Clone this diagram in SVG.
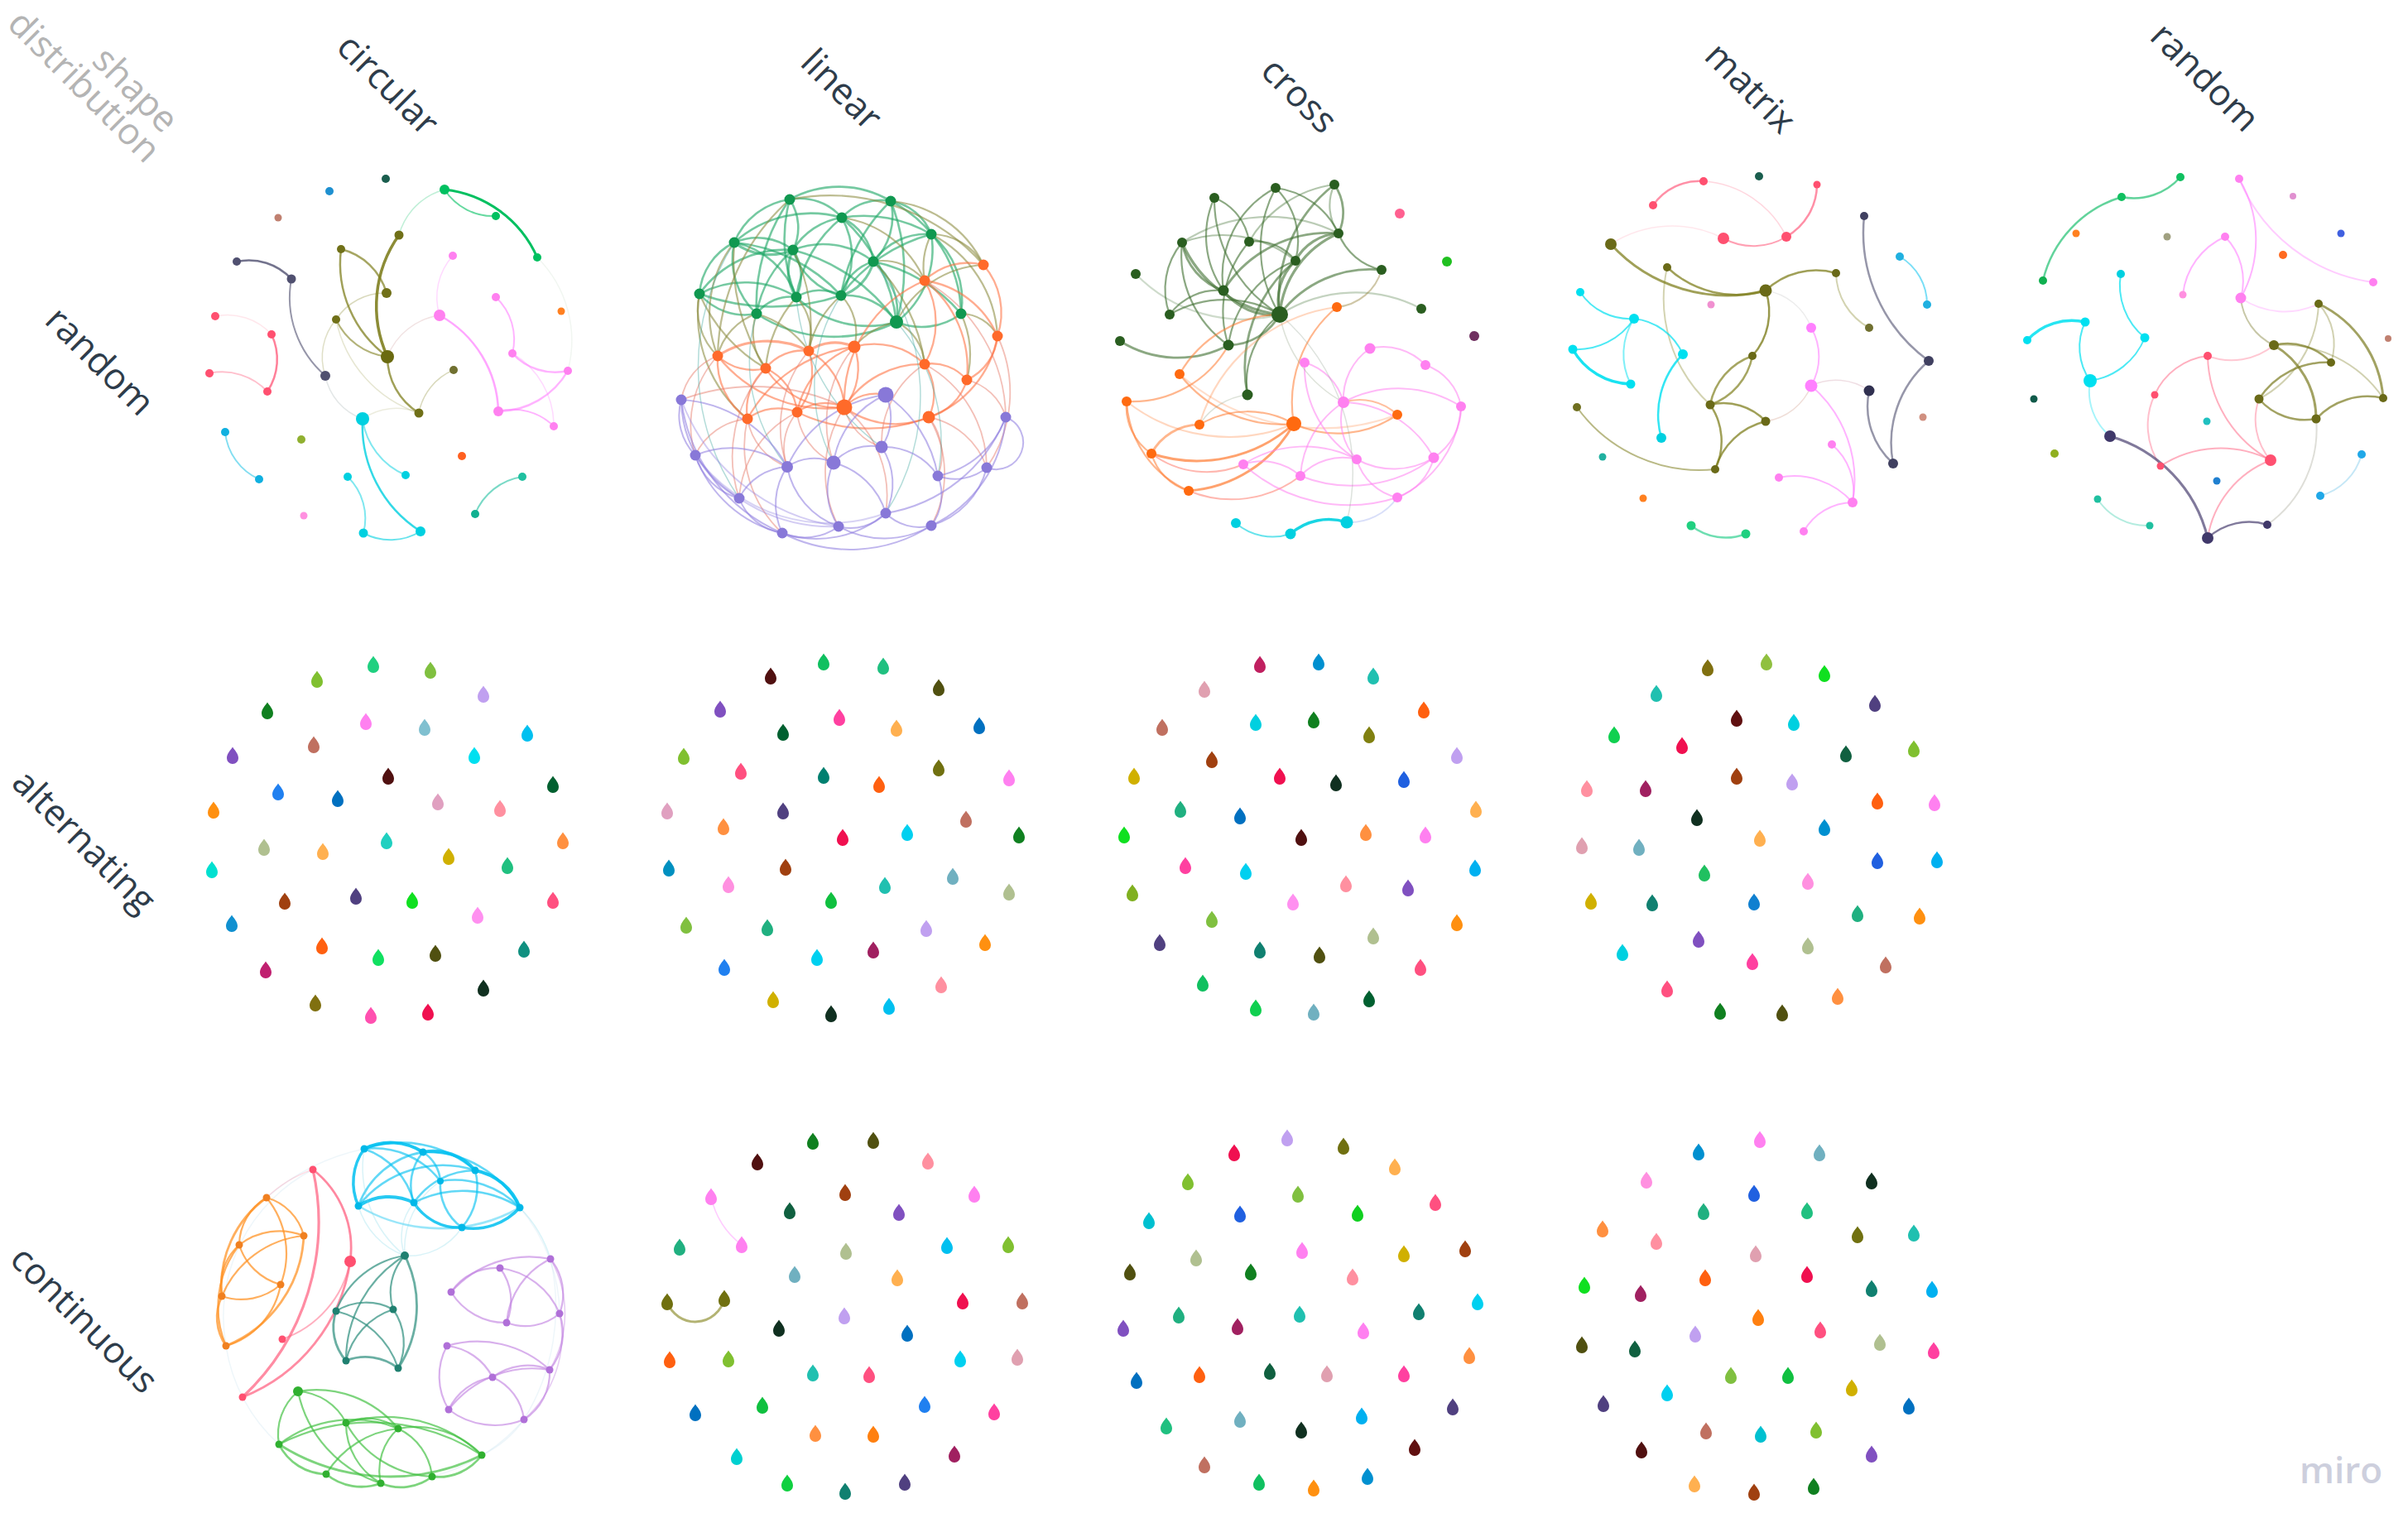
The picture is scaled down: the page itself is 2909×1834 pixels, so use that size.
<svg xmlns="http://www.w3.org/2000/svg" xmlns:xlink="http://www.w3.org/1999/xlink" width="2909" height="1834" viewBox="0 0 2909 1834">
<style>
.lbl{font-family:'Open Sans','Liberation Sans',sans-serif;font-size:44px;fill:#2e3c4a;text-anchor:middle}
.corner{fill:#b4b4b4}
.cx path{fill:none;stroke-linecap:round}
</style>
<defs>
<path id="d" d="M0,-10.5C3,-6 7,-2.5 7,3A7,7 0 0 1 -7,3C-7,-2.5 -3,-6 0,-10.5Z"/>
</defs>
<rect width="2909" height="1834" fill="#ffffff"/>

<g id="labels">
<text class="lbl corner" transform="translate(164,108) rotate(45)" dy=".35em">shape</text>
<text class="lbl corner" transform="translate(102,104) rotate(45)" dy=".35em">distribution</text>
<text class="lbl" transform="translate(469,102) rotate(45)" dy=".35em">circular</text>
<text class="lbl" transform="translate(1017,108) rotate(45)" dy=".35em">linear</text>
<text class="lbl" transform="translate(1570,115) rotate(45)" dy=".35em">cross</text>
<text class="lbl" transform="translate(2115,106) rotate(45)" dy=".35em">matrix</text>
<text class="lbl" transform="translate(2664,93) rotate(45)" dy=".35em">random</text>
<text class="lbl" transform="translate(121,436) rotate(45)" dy=".35em">random</text>
<text class="lbl" transform="translate(102,1016) rotate(45)" dy=".35em">alternating</text>
<text class="lbl" transform="translate(102,1594) rotate(45)" dy=".35em">continuous</text>
</g>

<!-- ROW 1 COL 1 -->
<g id="cell-random-circular">
<g class="cx" id="conn-random-circular">
<g stroke="#00c060">
<path d="M537 229A139 139 0 0 1 649 311" stroke-width="3"/>
<path d="M537 229A70 70 0 0 0 599 261" stroke-width="2" stroke-opacity=".6"/>
<path d="M482 284A78 78 0 0 1 537 229" stroke-width="1.5" stroke-opacity=".25"/>
</g>
<g stroke="#808020">
<path d="M482 284A148 148 0 0 0 468 431" stroke-width="3.5" stroke-opacity=".9"/>
<path d="M412 301A140 140 0 0 0 468 431" stroke-width="2.5" stroke-opacity=".75"/>
<path d="M412 301A76 76 0 0 1 467 354" stroke-width="2.5" stroke-opacity=".7"/>
<path d="M406 386A78 78 0 0 0 468 431" stroke-width="2" stroke-opacity=".6"/>
<path d="M406 386A70 70 0 0 1 467 354" stroke-width="1.5" stroke-opacity=".3"/>
<path d="M468 431A80 80 0 0 0 506 499" stroke-width="2.5" stroke-opacity=".75"/>
<path d="M393 454A70 70 0 0 1 406 386" stroke-width="1.5" stroke-opacity=".25"/>
<path d="M506 499A70 70 0 0 1 548 447" stroke-width="1.5" stroke-opacity=".3"/>
<path d="M406 386A150 150 0 0 0 506 499" stroke-width="1.5" stroke-opacity=".2"/>
<path d="M438 506A70 70 0 0 1 506 499" stroke-width="1.5" stroke-opacity=".15"/>
</g>
<path d="M468 431A80 80 0 0 1 531 381" stroke="#d0a0a0" stroke-width="1.5" stroke-opacity=".3"/>
<g stroke="#505070">
<path d="M286 316A70 70 0 0 1 352 337" stroke-width="2.5" stroke-opacity=".8"/>
<path d="M352 337A125 125 0 0 0 393 454" stroke-width="2" stroke-opacity=".6"/>
</g>
<g stroke="#ff6080">
<path d="M328 404A70 70 0 0 1 323 473" stroke-width="2.5" stroke-opacity=".8"/>
<path d="M253 451A75 75 0 0 1 323 473" stroke-width="2" stroke-opacity=".4"/>
<path d="M260 382A72 72 0 0 1 328 404" stroke-width="1.5" stroke-opacity=".15"/>
</g>
<g stroke="#ff80ff">
<path d="M547 309A75 75 0 0 0 531 381" stroke-width="1.5" stroke-opacity=".3"/>
<path d="M531 381A136 136 0 0 1 602 497" stroke-width="2.5" stroke-opacity=".7"/>
<path d="M599 359A70 70 0 0 1 619 427" stroke-width="2" stroke-opacity=".6"/>
<path d="M619 427A70 70 0 0 0 686 448" stroke-width="2.5" stroke-opacity=".6"/>
<path d="M602 497A70 70 0 0 1 669 515" stroke-width="2" stroke-opacity=".6"/>
<path d="M686 448A98 98 0 0 1 602 497" stroke-width="2.5" stroke-opacity=".6"/>
<path d="M619 427A101 101 0 0 1 669 515" stroke-width="1.5" stroke-opacity=".3"/>
</g>
<g stroke="#00d0e0">
<path d="M438 506A152 152 0 0 0 508 642" stroke-width="2.5" stroke-opacity=".8"/>
<path d="M438 506A86 86 0 0 0 490 574" stroke-width="2" stroke-opacity=".5"/>
<path d="M420 576A70 70 0 0 1 439 644" stroke-width="2" stroke-opacity=".5"/>
<path d="M439 644A69 69 0 0 0 508 642" stroke-width="2" stroke-opacity=".6"/>
</g>
<path d="M393 454A69 69 0 0 0 438 506" stroke="#90a0a0" stroke-width="1.5" stroke-opacity=".25"/>
<path d="M272 522A70 70 0 0 0 313 579" stroke="#30c8e8" stroke-width="2" stroke-opacity=".6"/>
<path d="M631 576A73 73 0 0 0 574 621" stroke="#20c0a0" stroke-width="2" stroke-opacity=".6"/>
<path d="M649 311A142 142 0 0 1 686 448" stroke="#a0c0a0" stroke-width="1.5" stroke-opacity=".15"/>
</g>
<g id="nodes-random-circular">
<circle cx="466" cy="216" r="5" fill="#1a5e4e"/>
<circle cx="398" cy="231" r="5" fill="#1e90d0"/>
<circle cx="336" cy="263" r="4.5" fill="#c08070"/>
<circle cx="537" cy="229" r="6" fill="#00c060"/>
<circle cx="599" cy="261" r="5" fill="#00c060"/>
<circle cx="649" cy="311" r="5" fill="#00c060"/>
<circle cx="482" cy="284" r="5.5" fill="#707018"/>
<circle cx="412" cy="301" r="5" fill="#707018"/>
<circle cx="467" cy="354" r="6" fill="#707018"/>
<circle cx="406" cy="386" r="5" fill="#707018"/>
<circle cx="468" cy="431" r="8" fill="#6a6a10"/>
<circle cx="548" cy="447" r="5" fill="#707030"/>
<circle cx="506" cy="499" r="5.5" fill="#707018"/>
<circle cx="286" cy="316" r="5" fill="#505070"/>
<circle cx="352" cy="337" r="5.5" fill="#505070"/>
<circle cx="393" cy="454" r="6" fill="#505070"/>
<circle cx="260" cy="382" r="5" fill="#ff5070"/>
<circle cx="328" cy="404" r="5" fill="#ff5070"/>
<circle cx="253" cy="451" r="5" fill="#ff5070"/>
<circle cx="323" cy="473" r="5" fill="#ff5070"/>
<circle cx="547" cy="309" r="5" fill="#ff80f0"/>
<circle cx="599" cy="359" r="5" fill="#ff80f0"/>
<circle cx="531" cy="381" r="7" fill="#ff80f0"/>
<circle cx="619" cy="427" r="5" fill="#ff80f0"/>
<circle cx="686" cy="448" r="5" fill="#ff80f0"/>
<circle cx="602" cy="497" r="6" fill="#ff80f0"/>
<circle cx="669" cy="515" r="5" fill="#ff80f0"/>
<circle cx="678" cy="376" r="4.5" fill="#ff8020"/>
<circle cx="558" cy="551" r="5" fill="#ff6020"/>
<circle cx="438" cy="506" r="8" fill="#00d0e0"/>
<circle cx="490" cy="574" r="5" fill="#00d0e0"/>
<circle cx="420" cy="576" r="5" fill="#00d0e0"/>
<circle cx="439" cy="644" r="5.5" fill="#00d0e0"/>
<circle cx="508" cy="642" r="6" fill="#00d0e0"/>
<circle cx="272" cy="522" r="5" fill="#10b0e0"/>
<circle cx="313" cy="579" r="5" fill="#10b0e0"/>
<circle cx="364" cy="531" r="5" fill="#90b030"/>
<circle cx="367" cy="623" r="4.5" fill="#ff90e0"/>
<circle cx="631" cy="576" r="5" fill="#20c0a0"/>
<circle cx="574" cy="621" r="5" fill="#10b090"/>
</g>
</g>

<!-- ROW 1 COL 2 -->
<g id="cell-random-linear">
<g class="cx" id="conn-random-linear">
<g stroke="#20a868" stroke-width="2.6" stroke-opacity=".62">
<path d="M954 241A122 122 0 0 1 1076 243"/>
<path d="M954 241A67 67 0 0 1 1017 263"/>
<path d="M954 241A85 85 0 0 0 887 293"/>
<path d="M954 241A61 61 0 0 1 958 302"/>
<path d="M1076 243A63 63 0 0 0 1017 263"/>
<path d="M1076 243A63 63 0 0 1 1125 283"/>
<path d="M1076 243A76 76 0 0 1 1055 316"/>
<path d="M1017 263A83 83 0 0 0 958 302"/>
<path d="M1017 263A67 67 0 0 1 1055 316"/>
<path d="M1017 263A94 94 0 0 1 1016 357"/>
<path d="M887 293A71 71 0 0 1 958 302"/>
<path d="M887 293A75 75 0 0 0 845 355"/>
<path d="M887 293A100 100 0 0 1 962 359"/>
<path d="M887 293A90 90 0 0 0 914 379"/>
<path d="M958 302A57 57 0 0 1 962 359"/>
<path d="M958 302A80 80 0 0 0 1016 357"/>
<path d="M958 302A98 98 0 0 1 1055 316"/>
<path d="M1125 283A78 78 0 0 0 1055 316"/>
<path d="M1125 283A110 110 0 0 1 1083 389"/>
<path d="M1055 316A56 56 0 0 0 1016 357"/>
<path d="M1055 316A77 77 0 0 1 1083 389"/>
<path d="M845 355A72 72 0 0 0 914 379"/>
<path d="M845 355A117 117 0 0 1 962 359"/>
<path d="M962 359A54 54 0 0 1 1016 357"/>
<path d="M962 359A52 52 0 0 0 914 379"/>
<path d="M1016 357A74 74 0 0 1 1083 389"/>
<path d="M914 379A170 170 0 0 0 1083 389"/>
<path d="M1083 389A79 79 0 0 0 1161 379"/>
<path d="M1125 283A104 104 0 0 1 1161 379"/>
<path d="M1076 243A155 155 0 0 1 1161 379"/>
<path d="M845 355A128 128 0 0 1 958 302"/>
<path d="M1017 263A138 138 0 0 0 887 293"/>
<path d="M962 359A125 125 0 0 0 1083 389"/>
<path d="M887 293A71 71 0 0 0 958 302" stroke-width="3.2"/>
<path d="M958 302A57 57 0 0 0 962 359" stroke-width="3.2"/>
<path d="M1055 316A56 56 0 0 1 1016 357" stroke-width="3.2"/>
<path d="M954 241A180 180 0 0 0 962 359"/>
<path d="M954 241A220 220 0 0 0 914 379"/>
<path d="M1076 243A200 200 0 0 0 1016 357"/>
<path d="M1076 243A220 220 0 0 1 1083 389"/>
<path d="M887 293A200 200 0 0 1 1016 357"/>
<path d="M1125 283A200 200 0 0 0 1016 357"/>
<path d="M1017 263A150 150 0 0 0 962 359"/>
<path d="M1017 263A200 200 0 0 1 1083 389"/>
<path d="M845 355A260 260 0 0 0 1016 357"/>
<path d="M1055 316A190 190 0 0 1 1161 379"/>
<path d="M1017 263A160 160 0 0 1 1125 283"/>
<path d="M958 302A130 130 0 0 0 914 379"/>
<path d="M958 302A220 220 0 0 1 1083 389"/>
</g>
<g stroke="#8c8c40" stroke-width="2.2" stroke-opacity=".58">
<path d="M954 241A247 247 0 0 1 1188 320"/>
<path d="M1076 243A136 136 0 0 1 1188 320"/>
<path d="M1125 283A72 72 0 0 1 1188 320"/>
<path d="M1125 283A147 147 0 0 1 1205 406"/>
<path d="M845 355A78 78 0 0 0 867 430"/>
<path d="M887 293A138 138 0 0 0 867 430"/>
<path d="M914 379A67 67 0 0 0 925 445"/>
<path d="M962 359A67 67 0 0 1 977 424"/>
<path d="M1016 357A64 64 0 0 1 1032 419"/>
<path d="M1083 389A61 61 0 0 1 1117 440"/>
<path d="M1161 379A50 50 0 0 1 1205 406"/>
<path d="M1055 316A66 66 0 0 1 1117 339"/>
<path d="M1017 263A127 127 0 0 1 1117 339"/>
<path d="M845 355A162 162 0 0 0 903 506"/>
<path d="M914 379A73 73 0 0 0 867 430"/>
<path d="M1083 389A125 125 0 0 1 1188 320"/>
<path d="M954 241A260 260 0 0 0 867 430"/>
<path d="M962 359A150 150 0 0 0 925 445"/>
<path d="M1016 357A120 120 0 0 0 977 424"/>
<path d="M914 379A120 120 0 0 1 977 424"/>
<path d="M1083 389A90 90 0 0 0 1032 419"/>
<path d="M1055 316A210 210 0 0 1 1117 440"/>
<path d="M1161 379A120 120 0 0 1 1168 459"/>
<path d="M1125 283A90 90 0 0 0 1117 339"/>
<path d="M958 302A200 200 0 0 1 977 424"/>
<path d="M845 355A190 190 0 0 0 925 445"/>
<path d="M887 293A240 240 0 0 0 925 445"/>
</g>
<g stroke="#ff7040" stroke-width="2.3" stroke-opacity=".58">
<path d="M1188 320A74 74 0 0 0 1117 339"/>
<path d="M1188 320A88 88 0 0 1 1205 406"/>
<path d="M1117 339A113 113 0 0 1 1205 406"/>
<path d="M1117 339A101 101 0 0 1 1117 440"/>
<path d="M1205 406A64 64 0 0 1 1168 459"/>
<path d="M1205 406A127 127 0 0 1 1122 504"/>
<path d="M867 430A110 110 0 0 1 977 424" stroke-width="3.2"/>
<path d="M867 430A62 62 0 0 0 925 445"/>
<path d="M867 430A86 86 0 0 0 903 506"/>
<path d="M977 424A55 55 0 0 1 1032 419" stroke-width="3.2"/>
<path d="M977 424A57 57 0 0 0 925 445"/>
<path d="M977 424A76 76 0 0 1 963 498"/>
<path d="M1032 419A74 74 0 0 1 1020 492"/>
<path d="M1032 419A88 88 0 0 1 1117 440"/>
<path d="M925 445A66 66 0 0 0 903 506"/>
<path d="M925 445A65 65 0 0 1 963 498"/>
<path d="M1117 440A55 55 0 0 1 1168 459"/>
<path d="M1117 440A64 64 0 0 1 1122 504"/>
<path d="M1168 459A65 65 0 0 1 1122 504"/>
<path d="M903 506A60 60 0 0 1 963 498"/>
<path d="M963 498A57 57 0 0 1 1020 492"/>
<path d="M1020 492A103 103 0 0 0 1122 504"/>
<path d="M867 430A167 167 0 0 0 1020 492"/>
<path d="M977 424A82 82 0 0 1 1020 492"/>
<path d="M1117 339A134 134 0 0 1 1168 459"/>
<path d="M1032 419A106 106 0 0 0 963 498"/>
<path d="M1020 492A52 52 0 0 1 1070 477"/>
<path d="M925 445A103 103 0 0 0 1020 492"/>
<path d="M1117 440A111 111 0 0 0 1020 492"/>
<path d="M903 506A170 170 0 0 1 1032 419"/>
<path d="M1020 492A160 160 0 0 1 1117 339"/>
<path d="M963 498A200 200 0 0 0 1122 504"/>
</g>
<g stroke="#e88070" stroke-width="1.8" stroke-opacity=".5">
<path d="M867 430A69 69 0 0 0 823 483"/>
<path d="M903 506A77 77 0 0 0 840 550"/>
<path d="M903 506A75 75 0 0 0 951 564"/>
<path d="M963 498A75 75 0 0 0 1007 559"/>
<path d="M1020 492A66 66 0 0 0 1065 540"/>
<path d="M1122 504A72 72 0 0 1 1133 575"/>
<path d="M1168 459A65 65 0 0 1 1215 504"/>
<path d="M1020 492A137 137 0 0 1 1070 620"/>
<path d="M963 498A125 125 0 0 0 893 602"/>
<path d="M1122 504A131 131 0 0 1 1125 635"/>
<path d="M1117 440A143 143 0 0 1 1192 565"/>
<path d="M903 506A144 144 0 0 0 945 644"/>
<path d="M1020 492A144 144 0 0 0 1013 636"/>
<path d="M823 483A250 250 0 0 1 1020 492"/>
<path d="M867 430A123 123 0 0 0 840 550"/>
<path d="M925 445A160 160 0 0 0 893 602"/>
<path d="M1032 419A142 142 0 0 0 1007 559"/>
<path d="M1117 440A113 113 0 0 0 1065 540"/>
<path d="M1122 504A93 93 0 0 1 1192 565"/>
<path d="M963 498A67 67 0 0 0 951 564"/>
<path d="M977 424A142 142 0 0 0 951 564"/>
<path d="M1117 339A192 192 0 0 1 1215 504"/>
<path d="M1205 406A160 160 0 0 1 1192 565"/>
</g>
<g stroke="#40a8a0" stroke-width="1.5" stroke-opacity=".4">
<path d="M1016 357A200 200 0 0 0 1007 559"/>
<path d="M962 359A250 250 0 0 0 1065 540"/>
<path d="M1083 389A220 220 0 0 1 1133 575"/>
<path d="M914 379A200 200 0 0 0 951 564"/>
<path d="M1055 316A260 260 0 0 1 1070 620"/>
<path d="M887 293A280 280 0 0 0 893 602"/>
</g>
<g stroke="#9080e0" stroke-width="2" stroke-opacity=".58">
<path d="M823 483A69 69 0 0 0 840 550"/>
<path d="M823 483A138 138 0 0 0 893 602"/>
<path d="M823 483A202 202 0 0 0 945 644"/>
<path d="M840 550A75 75 0 0 0 893 602"/>
<path d="M840 550A112 112 0 0 1 951 564"/>
<path d="M840 550A147 147 0 0 0 945 644"/>
<path d="M893 602A66 66 0 0 0 945 644"/>
<path d="M893 602A69 69 0 0 1 951 564"/>
<path d="M951 564A56 56 0 0 1 1007 559"/>
<path d="M951 564A95 95 0 0 0 1013 636"/>
<path d="M951 564A80 80 0 0 0 945 644"/>
<path d="M1007 559A61 61 0 0 1 1065 540"/>
<path d="M1007 559A78 78 0 0 0 1013 636"/>
<path d="M1007 559A89 89 0 0 1 1070 620"/>
<path d="M1065 540A80 80 0 0 1 1070 620"/>
<path d="M1065 540A77 77 0 0 1 1133 575"/>
<path d="M1065 540A63 63 0 0 0 1070 477"/>
<path d="M1070 477A106 106 0 0 0 1007 559"/>
<path d="M1133 575A60 60 0 0 0 1192 565"/>
<path d="M1133 575A61 61 0 0 1 1125 635"/>
<path d="M1192 565A32 32 0 0 0 1215 504"/>
<path d="M1215 504A156 156 0 0 1 1125 635"/>
<path d="M1192 565A98 98 0 0 1 1125 635"/>
<path d="M1070 620A57 57 0 0 0 1125 635"/>
<path d="M1070 620A59 59 0 0 1 1013 636"/>
<path d="M1013 636A69 69 0 0 1 945 644"/>
<path d="M945 644A180 180 0 0 0 1125 635"/>
<path d="M1215 504A110 110 0 0 1 1133 575"/>
<path d="M823 483A156 156 0 0 1 951 564"/>
<path d="M945 644A128 128 0 0 0 1070 620"/>
<path d="M1215 504A188 188 0 0 1 1070 620"/>
<path d="M1013 636A112 112 0 0 0 1125 635"/>
<path d="M823 483A240 240 0 0 0 1013 636" stroke-opacity=".4"/>
<path d="M840 550A200 200 0 0 0 1013 636" stroke-opacity=".4"/>
<path d="M1070 477A150 150 0 0 1 1133 575"/>
<path d="M1070 477A150 150 0 0 0 951 564"/>
<path d="M840 550A200 200 0 0 0 1070 620" stroke-opacity=".35"/>
</g>
</g>
<g id="nodes-random-linear">
<g fill="#109850">
<circle cx="954" cy="241" r="6.5"/><circle cx="1076" cy="243" r="6.5"/><circle cx="1017" cy="263" r="6.5"/>
<circle cx="887" cy="293" r="6.5"/><circle cx="958" cy="302" r="6.5"/><circle cx="1125" cy="283" r="6.5"/>
<circle cx="1055" cy="316" r="6.5"/><circle cx="845" cy="355" r="6.5"/><circle cx="962" cy="359" r="6.5"/>
<circle cx="1016" cy="357" r="6.5"/><circle cx="914" cy="379" r="6.5"/><circle cx="1083" cy="389" r="8"/>
<circle cx="1161" cy="379" r="6.5"/>
</g>
<g fill="#ff6a2a">
<circle cx="1188" cy="320" r="6.5"/><circle cx="1117" cy="339" r="6.5"/><circle cx="1205" cy="406" r="6.5"/>
<circle cx="867" cy="430" r="6.5"/><circle cx="977" cy="424" r="6.5"/><circle cx="1032" cy="419" r="7.5"/>
<circle cx="925" cy="445" r="6.5"/><circle cx="1117" cy="440" r="6.5"/><circle cx="1168" cy="459" r="6.5"/>
<circle cx="903" cy="506" r="6.5"/><circle cx="963" cy="498" r="6.5"/><circle cx="1020" cy="492" r="9.5"/>
<circle cx="1122" cy="504" r="7.5"/>
</g>
<g fill="#8878d8">
<circle cx="1070" cy="477" r="9.5"/><circle cx="823" cy="483" r="6.5"/><circle cx="1215" cy="504" r="6.5"/>
<circle cx="840" cy="550" r="6.5"/><circle cx="951" cy="564" r="7"/><circle cx="1007" cy="559" r="8.5"/>
<circle cx="1065" cy="540" r="7.5"/><circle cx="1133" cy="575" r="6.5"/><circle cx="1192" cy="565" r="6.5"/>
<circle cx="893" cy="602" r="6.5"/><circle cx="1070" cy="620" r="6.5"/><circle cx="1013" cy="636" r="6.5"/>
<circle cx="1125" cy="635" r="6.5"/><circle cx="945" cy="644" r="6.5"/>
</g>
</g>
</g>

<!-- ROW 1 COL 3 -->
<g id="cell-random-cross">
<g class="cx" id="conn-random-cross">
<g stroke="#3d6e2e" stroke-width="2.2" stroke-opacity=".6">
<path d="M1612 223A59 59 0 0 1 1617 282" stroke-width="2.8"/>
<path d="M1612 223A59 59 0 0 0 1617 282" stroke-opacity=".4"/>
<path d="M1612 223A173 173 0 0 0 1546 380" stroke-width="2.8"/>
<path d="M1541 227A97 97 0 0 1 1617 282"/>
<path d="M1541 227A153 153 0 0 0 1546 380"/>
<path d="M1541 227A90 90 0 0 1 1565 315"/>
<path d="M1467 239A67 67 0 0 1 1509 292"/>
<path d="M1467 239A163 163 0 0 0 1546 380"/>
<path d="M1467 239A113 113 0 0 0 1478 351"/>
<path d="M1617 282A62 62 0 0 0 1565 315" stroke-width="3.2"/>
<path d="M1617 282A118 118 0 0 0 1546 380" stroke-width="3.2"/>
<path d="M1617 282A190 190 0 0 0 1428 293" stroke-opacity=".35"/>
<path d="M1617 282A149 149 0 0 0 1478 351" stroke-width="2.8"/>
<path d="M1509 292A61 61 0 0 1 1565 315"/>
<path d="M1509 292A129 129 0 0 0 1484 417"/>
<path d="M1428 293A146 146 0 0 0 1546 380" stroke-width="3.2"/>
<path d="M1428 293A140 140 0 0 1 1565 315" stroke-opacity=".4"/>
<path d="M1428 293A74 74 0 0 0 1478 351" stroke-width="2.8"/>
<path d="M1428 293A133 133 0 0 0 1484 417"/>
<path d="M1565 315A67 67 0 0 0 1546 380" stroke-width="3.2"/>
<path d="M1565 315A128 128 0 0 0 1484 417"/>
<path d="M1565 315A168 168 0 0 0 1507 477" stroke-width="2.8"/>
<path d="M1669 326A137 137 0 0 0 1546 380" stroke-width="2.8"/>
<path d="M1669 326A72 72 0 0 1 1617 282"/>
<path d="M1478 351A75 75 0 0 0 1546 380" stroke-width="3.2"/>
<path d="M1413 380A133 133 0 0 1 1546 380"/>
<path d="M1413 380A72 72 0 0 1 1478 351"/>
<path d="M1353 412A131 131 0 0 0 1484 417" stroke-width="2.8"/>
<path d="M1372 331A180 180 0 0 0 1546 380" stroke-opacity=".25"/>
<path d="M1717 373A171 171 0 0 0 1546 380" stroke-opacity=".3"/>
<path d="M1507 477A104 104 0 0 1 1546 380"/>
<path d="M1484 417A72 72 0 0 0 1546 380" stroke-width="2.8"/>
<path d="M1413 380A88 88 0 0 1 1428 293"/>
<path d="M1541 227A120 120 0 0 0 1478 351"/>
<path d="M1612 223A140 140 0 0 0 1509 292" stroke-opacity=".4"/>
</g>
<path d="M1669 326A62 62 0 0 1 1615 371" stroke="#a09050" stroke-width="2" stroke-opacity=".5"/>
<g stroke="#ff7a30" stroke-width="2.2" stroke-opacity=".55">
<path d="M1361 485A68 68 0 0 0 1391 548"/>
<path d="M1391 548A66 66 0 0 1 1449 513" stroke-width="3"/>
<path d="M1391 548A66 66 0 0 0 1436 593"/>
<path d="M1391 548A175 175 0 0 0 1563 512" stroke-width="3" stroke-opacity=".7"/>
<path d="M1436 593A158 158 0 0 0 1563 512" stroke-width="3" stroke-opacity=".7"/>
<path d="M1425 452A142 142 0 0 1 1546 380"/>
<path d="M1361 485A133 133 0 0 0 1484 417"/>
<path d="M1615 371A150 150 0 0 0 1563 512"/>
<path d="M1563 512A126 126 0 0 0 1688 501"/>
<path d="M1425 452A155 155 0 0 0 1563 512"/>
<path d="M1449 513A114 114 0 0 1 1563 512"/>
<path d="M1361 485A125 125 0 0 0 1436 593"/>
<path d="M1615 371A200 200 0 0 0 1449 513" stroke-opacity=".3"/>
<path d="M1361 485A200 200 0 0 0 1563 512" stroke-opacity=".3"/>
<path d="M1425 452A260 260 0 0 0 1688 501" stroke-opacity=".25"/>
</g>
<g stroke="#ff7060" stroke-width="2" stroke-opacity=".5">
<path d="M1391 548A111 111 0 0 0 1502 561"/>
<path d="M1436 593A136 136 0 0 0 1571 575"/>
</g>
<g stroke="#ff80f0" stroke-width="2" stroke-opacity=".55">
<path d="M1655 421A70 70 0 0 1 1722 441"/>
<path d="M1722 441A65 65 0 0 1 1765 491"/>
<path d="M1576 438A68 68 0 0 1 1623 486"/>
<path d="M1623 486A142 142 0 0 1 1765 491"/>
<path d="M1623 486A71 71 0 0 0 1639 555"/>
<path d="M1623 486A127 127 0 0 1 1732 553"/>
<path d="M1639 555A93 93 0 0 0 1732 553"/>
<path d="M1732 553A68 68 0 0 1 1688 601"/>
<path d="M1765 491A72 72 0 0 1 1732 553"/>
<path d="M1639 555A66 66 0 0 0 1688 601"/>
<path d="M1502 561A70 70 0 0 1 1571 575"/>
<path d="M1571 575A70 70 0 0 1 1639 555"/>
<path d="M1571 575A115 115 0 0 1 1623 486"/>
<path d="M1502 561A137 137 0 0 1 1639 555"/>
<path d="M1655 421A73 73 0 0 0 1623 486"/>
<path d="M1576 438A132 132 0 0 0 1639 555"/>
<path d="M1571 575A165 165 0 0 0 1732 553"/>
<path d="M1765 491A130 130 0 0 1 1688 601"/>
<path d="M1502 561A190 190 0 0 0 1688 601"/>
</g>
<path d="M1623 486A66 66 0 0 1 1688 501" stroke="#ff8040" stroke-width="2" stroke-opacity=".5"/>
<path d="M1546 380A150 150 0 0 0 1623 486" stroke="#90a080" stroke-width="1.5" stroke-opacity=".3"/>
<path d="M1507 477A80 80 0 0 0 1449 513" stroke="#90a080" stroke-width="1.5" stroke-opacity=".3"/>
<path d="M1493 632A68 68 0 0 0 1559 645" stroke="#00d0e0" stroke-width="2" stroke-opacity=".6"/>
<path d="M1559 645A70 70 0 0 1 1627 631" stroke="#00d0e0" stroke-width="3.5" stroke-opacity=".9"/>
<path d="M1627 631A70 70 0 0 0 1688 601" stroke="#a0b0f0" stroke-width="2" stroke-opacity=".4"/>
<path d="M1627 631A252 252 0 0 0 1546 380" stroke="#90a090" stroke-width="1.5" stroke-opacity=".3"/>
</g>
<g id="nodes-random-cross">
<g fill="#2a5e20">
<circle cx="1612" cy="223" r="6"/><circle cx="1541" cy="227" r="6"/><circle cx="1467" cy="239" r="6"/>
<circle cx="1617" cy="282" r="6"/><circle cx="1509" cy="292" r="6"/><circle cx="1428" cy="293" r="6"/>
<circle cx="1565" cy="315" r="6"/><circle cx="1372" cy="331" r="6"/><circle cx="1669" cy="326" r="6"/>
<circle cx="1478" cy="351" r="6.5"/><circle cx="1546" cy="380" r="10"/><circle cx="1413" cy="380" r="6"/>
<circle cx="1717" cy="373" r="6"/><circle cx="1353" cy="412" r="6"/><circle cx="1484" cy="417" r="6.5"/>
<circle cx="1507" cy="477" r="6.5"/>
</g>
<g fill="#ff6a10">
<circle cx="1615" cy="371" r="6"/><circle cx="1425" cy="452" r="6"/><circle cx="1361" cy="485" r="6"/>
<circle cx="1449" cy="513" r="6"/><circle cx="1563" cy="512" r="9"/><circle cx="1688" cy="501" r="6"/>
<circle cx="1391" cy="548" r="6"/><circle cx="1436" cy="593" r="6"/>
</g>
<g fill="#ff80f0">
<circle cx="1655" cy="421" r="6.5"/><circle cx="1576" cy="438" r="6"/><circle cx="1722" cy="441" r="6"/>
<circle cx="1623" cy="486" r="7"/><circle cx="1765" cy="491" r="6"/><circle cx="1639" cy="555" r="6"/>
<circle cx="1732" cy="553" r="6.5"/><circle cx="1502" cy="561" r="6"/><circle cx="1571" cy="575" r="6"/>
<circle cx="1688" cy="601" r="6"/>
</g>
<g fill="#00d0e0">
<circle cx="1493" cy="632" r="6"/><circle cx="1559" cy="645" r="6.5"/><circle cx="1627" cy="631" r="7.5"/>
</g>
<circle cx="1691" cy="258" r="6" fill="#ff6090"/>
<circle cx="1748" cy="316" r="6" fill="#20c020"/>
<circle cx="1781" cy="406" r="6" fill="#703060"/>
</g>
</g>

<!-- ROW 1 COL 4 -->
<g id="cell-random-matrix">
<g class="cx" id="conn-random-matrix">
<g stroke="#ff6080">
<path d="M1997 248A68 68 0 0 1 2058 219" stroke-width="2.5" stroke-opacity=".7"/>
<path d="M2058 219A120 120 0 0 1 2158 286" stroke-width="1.5" stroke-opacity=".25"/>
<path d="M2195 223A73 73 0 0 1 2158 286" stroke-width="2.5" stroke-opacity=".7"/>
<path d="M2082 288A76 76 0 0 0 2158 286" stroke-width="2" stroke-opacity=".6"/>
<path d="M1946 295A136 136 0 0 1 2082 288" stroke-width="1.5" stroke-opacity=".15"/>
</g>
<g stroke="#808020">
<path d="M1946 295A190 190 0 0 0 2133 351" stroke-width="3" stroke-opacity=".75"/>
<path d="M2014 323A122 122 0 0 0 2133 351" stroke-width="2.5" stroke-opacity=".75"/>
<path d="M2133 351A88 88 0 0 1 2218 330" stroke-width="2.5" stroke-opacity=".75"/>
<path d="M2014 323A174 174 0 0 0 2066 489" stroke-width="2" stroke-opacity=".35"/>
<path d="M2133 351A80 80 0 0 1 2117 430" stroke-width="2.5" stroke-opacity=".8"/>
<path d="M2117 430A78 78 0 0 0 2066 489" stroke-width="2.5" stroke-opacity=".7"/>
<path d="M2117 430A78 78 0 0 1 2066 489" stroke-width="2.5" stroke-opacity=".7"/>
<path d="M2066 489A70 70 0 0 1 2133 509" stroke-width="2.5" stroke-opacity=".75"/>
<path d="M2066 489A78 78 0 0 1 2072 567" stroke-width="2.5" stroke-opacity=".75"/>
<path d="M2072 567A84 84 0 0 1 2133 509" stroke-width="2.5" stroke-opacity=".75"/>
<path d="M1905 492A183 183 0 0 0 2072 567" stroke-width="2" stroke-opacity=".55"/>
<path d="M2218 330A77 77 0 0 0 2258 396" stroke-width="2" stroke-opacity=".35"/>
</g>
<path d="M2133 351A70 70 0 0 1 2188 396" stroke="#a0a0a0" stroke-width="1.5" stroke-opacity=".2"/>
<g stroke="#505070" stroke-width="2.5" stroke-opacity=".6">
<path d="M2252 261A192 192 0 0 0 2330 436"/>
<path d="M2330 436A131 131 0 0 0 2287 560"/>
<path d="M2258 472A93 93 0 0 0 2287 560"/>
</g>
<path d="M2295 310A67 67 0 0 1 2328 368" stroke="#20c8f0" stroke-width="2" stroke-opacity=".6"/>
<g stroke="#00e0f0" stroke-width="2" stroke-opacity=".7">
<path d="M1909 353A72 72 0 0 0 1974 385"/>
<path d="M1974 385A73 73 0 0 1 2033 428"/>
<path d="M1900 422A83 83 0 0 0 1974 385"/>
<path d="M1900 422A82 82 0 0 0 1970 464" stroke-width="3.5" stroke-opacity=".9"/>
<path d="M1974 385A79 79 0 0 0 1970 464" stroke-opacity=".5"/>
<path d="M2033 428A104 104 0 0 0 2007 529" stroke-width="2.5" stroke-opacity=".8"/>
</g>
<g stroke="#ff80ff" stroke-width="2" stroke-opacity=".6">
<path d="M2188 396A70 70 0 0 1 2188 466"/>
<path d="M2188 466A150 150 0 0 1 2238 607"/>
<path d="M2213 537A74 74 0 0 1 2238 607"/>
<path d="M2149 577A94 94 0 0 1 2238 607"/>
<path d="M2179 642A69 69 0 0 1 2238 607"/>
</g>
<path d="M2188 466A70 70 0 0 1 2258 472" stroke="#d0a0b0" stroke-width="1.5" stroke-opacity=".35"/>
<path d="M2133 509A70 70 0 0 0 2188 466" stroke="#d0a090" stroke-width="1.5" stroke-opacity=".35"/>
<path d="M2043 635A67 67 0 0 0 2109 645" stroke="#30d090" stroke-width="2.5" stroke-opacity=".7"/>
</g>
<g id="nodes-random-matrix">
<circle cx="2058" cy="219" r="5" fill="#ff5070"/>
<circle cx="1997" cy="248" r="5" fill="#ff5070"/>
<circle cx="2195" cy="223" r="4.5" fill="#ff5070"/>
<circle cx="2082" cy="288" r="7" fill="#ff5070"/>
<circle cx="2158" cy="286" r="6" fill="#ff5070"/>
<circle cx="2125" cy="213" r="5" fill="#1a5e4e"/>
<circle cx="1946" cy="295" r="7" fill="#6a6a18"/>
<circle cx="2014" cy="323" r="5" fill="#6a6a18"/>
<circle cx="2133" cy="351" r="7.5" fill="#6a6a18"/>
<circle cx="2218" cy="330" r="5" fill="#6a6a18"/>
<circle cx="2258" cy="396" r="5" fill="#707030"/>
<circle cx="2117" cy="430" r="5" fill="#6a6a18"/>
<circle cx="2066" cy="489" r="5.5" fill="#6a6a18"/>
<circle cx="2133" cy="509" r="5.5" fill="#6a6a18"/>
<circle cx="1905" cy="492" r="5" fill="#707020"/>
<circle cx="2072" cy="567" r="5" fill="#6a6a18"/>
<circle cx="2067" cy="368" r="4.5" fill="#f090d0"/>
<circle cx="2252" cy="261" r="5" fill="#404060"/>
<circle cx="2330" cy="436" r="6" fill="#404060"/>
<circle cx="2258" cy="472" r="6.5" fill="#303050"/>
<circle cx="2287" cy="560" r="6" fill="#404060"/>
<circle cx="2295" cy="310" r="5" fill="#20b0e0"/>
<circle cx="2328" cy="368" r="5" fill="#20b0e0"/>
<circle cx="1974" cy="385" r="6" fill="#00e0f0"/>
<circle cx="1900" cy="422" r="5.5" fill="#00e0f0"/>
<circle cx="2033" cy="428" r="6" fill="#00e0f0"/>
<circle cx="1970" cy="464" r="5.5" fill="#00e0f0"/>
<circle cx="1909" cy="353" r="5" fill="#00e0f0"/>
<circle cx="2007" cy="529" r="6" fill="#00d0e0"/>
<circle cx="2188" cy="396" r="6" fill="#ff80ff"/>
<circle cx="2188" cy="466" r="7.5" fill="#ff80ff"/>
<circle cx="2213" cy="537" r="5" fill="#ff80f0"/>
<circle cx="2149" cy="577" r="5" fill="#ff80f0"/>
<circle cx="2238" cy="607" r="6" fill="#ff80f0"/>
<circle cx="2179" cy="642" r="5" fill="#ff80f0"/>
<circle cx="2323" cy="504" r="4.5" fill="#d09080"/>
<circle cx="1936" cy="552" r="4.5" fill="#20b0a0"/>
<circle cx="1985" cy="602" r="4.5" fill="#ff8020"/>
<circle cx="2043" cy="635" r="5.5" fill="#20d080"/>
<circle cx="2109" cy="645" r="5.5" fill="#20d080"/>
</g>
</g>

<!-- ROW 1 COL 5 -->
<g id="cell-random-random">
<g class="cx" id="conn-random-random">
<g stroke="#20c070" stroke-width="2.5" stroke-opacity=".7">
<path d="M2634 214A75 75 0 0 1 2563 238"/>
<path d="M2563 238A139 139 0 0 0 2468 339"/>
</g>
<g stroke="#ff80ff" stroke-width="2" stroke-opacity=".6">
<path d="M2705 216A144 144 0 0 1 2707 360"/>
<path d="M2705 216A205 205 0 0 0 2867 341" stroke-opacity=".4"/>
<path d="M2688 286A76 76 0 0 1 2707 360"/>
<path d="M2688 286A87 87 0 0 0 2637 356"/>
<path d="M2707 360A94 94 0 0 0 2801 367" stroke-opacity=".3"/>
</g>
<path d="M2707 360A70 70 0 0 0 2747 417" stroke="#909050" stroke-width="2" stroke-opacity=".5"/>
<g stroke="#00e0f0" stroke-width="2" stroke-opacity=".7">
<path d="M2562 331A82 82 0 0 0 2591 408"/>
<path d="M2591 408A84 84 0 0 1 2525 460"/>
<path d="M2519 389A73 73 0 0 0 2449 411" stroke-width="3.5" stroke-opacity=".85"/>
<path d="M2519 389A71 71 0 0 0 2525 460"/>
<path d="M2525 460A71 71 0 0 0 2549 527" stroke-opacity=".35"/>
</g>
<g stroke="#7a7a20" stroke-width="2.5" stroke-opacity=".7">
<path d="M2747 417A72 72 0 0 1 2816 438"/>
<path d="M2747 417A103 103 0 0 1 2798 506" stroke-width="3"/>
<path d="M2801 367A138 138 0 0 1 2879 481" stroke-width="3"/>
<path d="M2729 482A73 73 0 0 0 2798 506"/>
<path d="M2729 482A97 97 0 0 1 2816 438"/>
<path d="M2798 506A85 85 0 0 1 2879 481"/>
<path d="M2747 417A147 147 0 0 1 2879 481" stroke-width="2" stroke-opacity=".35"/>
<path d="M2729 482A136 136 0 0 0 2801 367" stroke-width="2" stroke-opacity=".35"/>
<path d="M2801 367A72 72 0 0 1 2816 438" stroke-width="2" stroke-opacity=".35"/>
</g>
<path d="M2798 506A141 141 0 0 1 2739 634" stroke="#a0a090" stroke-width="2" stroke-opacity=".35"/>
<g stroke="#ff6080" stroke-width="2" stroke-opacity=".5">
<path d="M2667 430A81 81 0 0 0 2747 417" stroke-opacity=".35"/>
<path d="M2667 430A80 80 0 0 0 2603 477"/>
<path d="M2603 477A86 86 0 0 0 2610 563" stroke-opacity=".4"/>
<path d="M2667 430A147 147 0 0 0 2743 556"/>
<path d="M2610 563A133 133 0 0 1 2743 556"/>
<path d="M2743 556A121 121 0 0 0 2667 650"/>
<path d="M2743 556A75 75 0 0 1 2729 482" stroke-opacity=".4"/>
</g>
<g stroke="#4a4070" stroke-opacity=".7">
<path d="M2549 527A170 170 0 0 1 2667 650" stroke-width="3"/>
<path d="M2667 650A74 74 0 0 1 2739 634" stroke-width="2.5"/>
</g>
<path d="M2534 603A71 71 0 0 0 2597 635" stroke="#40d0b0" stroke-width="2" stroke-opacity=".4"/>
<path d="M2853 549A71 71 0 0 1 2803 599" stroke="#40b0e0" stroke-width="2" stroke-opacity=".3"/>
</g>
<g id="nodes-random-random">
<circle cx="2634" cy="214" r="5" fill="#10c060"/>
<circle cx="2563" cy="238" r="5" fill="#10c060"/>
<circle cx="2468" cy="339" r="5" fill="#10b050"/>
<circle cx="2508" cy="282" r="4.5" fill="#ff8020"/>
<circle cx="2758" cy="308" r="5" fill="#ff6a20"/>
<circle cx="2618" cy="286" r="4.5" fill="#a0a080"/>
<circle cx="2705" cy="216" r="5" fill="#ff80f0"/>
<circle cx="2770" cy="237" r="4" fill="#e090d0"/>
<circle cx="2688" cy="286" r="5" fill="#ff80f0"/>
<circle cx="2637" cy="356" r="4.5" fill="#ff90e0"/>
<circle cx="2707" cy="360" r="6.5" fill="#ff80f0"/>
<circle cx="2867" cy="341" r="5" fill="#ff80f0"/>
<circle cx="2828" cy="282" r="4.5" fill="#4060e0"/>
<circle cx="2562" cy="331" r="5" fill="#00d0e0"/>
<circle cx="2519" cy="389" r="5.5" fill="#00e0f0"/>
<circle cx="2449" cy="411" r="5" fill="#00e0f0"/>
<circle cx="2591" cy="408" r="5.5" fill="#00e0f0"/>
<circle cx="2525" cy="460" r="8" fill="#00e0f0"/>
<circle cx="2801" cy="367" r="5" fill="#6a6a18"/>
<circle cx="2747" cy="417" r="6" fill="#6a6a18"/>
<circle cx="2816" cy="438" r="5" fill="#6a6a18"/>
<circle cx="2729" cy="482" r="5.5" fill="#6a6a18"/>
<circle cx="2879" cy="481" r="5" fill="#6a6a18"/>
<circle cx="2798" cy="506" r="5.5" fill="#6a6a18"/>
<circle cx="2885" cy="409" r="4" fill="#c08070"/>
<circle cx="2667" cy="430" r="5" fill="#ff5070"/>
<circle cx="2603" cy="477" r="4.5" fill="#ff5070"/>
<circle cx="2610" cy="563" r="4.5" fill="#ff5070"/>
<circle cx="2743" cy="556" r="7" fill="#ff5070"/>
<circle cx="2457" cy="482" r="4.5" fill="#105a4a"/>
<circle cx="2666" cy="509" r="4.5" fill="#20c0c0"/>
<circle cx="2534" cy="603" r="4.5" fill="#20c0a0"/>
<circle cx="2597" cy="635" r="4.5" fill="#20c0a0"/>
<circle cx="2482" cy="548" r="5" fill="#90b020"/>
<circle cx="2549" cy="527" r="7" fill="#40386a"/>
<circle cx="2667" cy="650" r="7" fill="#40386a"/>
<circle cx="2739" cy="634" r="5" fill="#40386a"/>
<circle cx="2678" cy="581" r="4.5" fill="#2080d0"/>
<circle cx="2853" cy="549" r="5" fill="#20a8e8"/>
<circle cx="2803" cy="599" r="5" fill="#20a8e8"/>
</g>
</g>

<!-- ROW 2 -->
<g id="cell-alternating-circular">
<use href="#d" x="451" y="803" fill="#20d080"/><use href="#d" x="520" y="810" fill="#80c040"/><use href="#d" x="383" y="821" fill="#80c030"/>
<use href="#d" x="584" y="839" fill="#c0a0f0"/><use href="#d" x="323" y="859" fill="#108020"/><use href="#d" x="442" y="872" fill="#ff80f0"/>
<use href="#d" x="513" y="879" fill="#80c0d0"/><use href="#d" x="637" y="886" fill="#00c0f0"/><use href="#d" x="379" y="900" fill="#c07060"/>
<use href="#d" x="281" y="913" fill="#8050c0"/><use href="#d" x="573" y="913" fill="#00e0f0"/><use href="#d" x="469" y="938" fill="#501010"/>
<use href="#d" x="668" y="948" fill="#006030"/><use href="#d" x="336" y="957" fill="#2080f0"/><use href="#d" x="408" y="965" fill="#0070c0"/>
<use href="#d" x="529" y="969" fill="#e0a0c0"/><use href="#d" x="258" y="979" fill="#ff9010"/><use href="#d" x="604" y="977" fill="#ff90a0"/>
<use href="#d" x="467" y="1016" fill="#20d0c0"/><use href="#d" x="680" y="1016" fill="#ff9040"/><use href="#d" x="319" y="1024" fill="#b0c090"/>
<use href="#d" x="390" y="1029" fill="#ffb050"/><use href="#d" x="542" y="1035" fill="#d0b000"/><use href="#d" x="256" y="1051" fill="#00e0d0"/>
<use href="#d" x="613" y="1046" fill="#20c080"/><use href="#d" x="344" y="1089" fill="#a04010"/><use href="#d" x="430" y="1083" fill="#504080"/>
<use href="#d" x="498" y="1088" fill="#10e020"/><use href="#d" x="668" y="1088" fill="#ff5080"/><use href="#d" x="577" y="1106" fill="#ff90f0"/>
<use href="#d" x="280" y="1116" fill="#1090d0"/><use href="#d" x="389" y="1143" fill="#ff6010"/><use href="#d" x="457" y="1157" fill="#10e060"/>
<use href="#d" x="526" y="1152" fill="#505010"/><use href="#d" x="633" y="1147" fill="#109080"/><use href="#d" x="321" y="1172" fill="#c02070"/>
<use href="#d" x="584" y="1194" fill="#103020"/><use href="#d" x="381" y="1212" fill="#807010"/><use href="#d" x="448" y="1227" fill="#ff50b0"/>
<use href="#d" x="517" y="1223" fill="#f01050"/>
</g>
<g id="cell-alternating-linear">
<use href="#d" x="995" y="800" fill="#10c060"/><use href="#d" x="1067" y="805" fill="#20c080"/><use href="#d" x="931" y="817" fill="#501010"/>
<use href="#d" x="1134" y="831" fill="#505010"/><use href="#d" x="870" y="857" fill="#8050c0"/><use href="#d" x="1014" y="867" fill="#ff40a0"/>
<use href="#d" x="1083" y="880" fill="#ffb050"/><use href="#d" x="1183" y="877" fill="#0070c0"/><use href="#d" x="946" y="885" fill="#006030"/>
<use href="#d" x="826" y="914" fill="#80c030"/><use href="#d" x="895" y="932" fill="#ff5080"/><use href="#d" x="995" y="937" fill="#008070"/>
<use href="#d" x="1134" y="928" fill="#707010"/><use href="#d" x="1062" y="948" fill="#ff6010"/><use href="#d" x="1219" y="940" fill="#ff80f0"/>
<use href="#d" x="806" y="980" fill="#e0a0c0"/><use href="#d" x="946" y="980" fill="#504080"/><use href="#d" x="874" y="999" fill="#ff9040"/>
<use href="#d" x="1018" y="1012" fill="#f01050"/><use href="#d" x="1096" y="1006" fill="#00d0f0"/><use href="#d" x="1167" y="990" fill="#c07060"/>
<use href="#d" x="1231" y="1009" fill="#108020"/><use href="#d" x="808" y="1049" fill="#0090c0"/><use href="#d" x="949" y="1048" fill="#a04010"/>
<use href="#d" x="880" y="1069" fill="#ff90e0"/><use href="#d" x="1069" y="1070" fill="#20c0b0"/><use href="#d" x="1151" y="1059" fill="#70b0c0"/>
<use href="#d" x="1219" y="1078" fill="#b0c090"/><use href="#d" x="1004" y="1088" fill="#10c040"/><use href="#d" x="829" y="1118" fill="#80c040"/>
<use href="#d" x="927" y="1121" fill="#20b080"/><use href="#d" x="1119" y="1122" fill="#c0a0f0"/><use href="#d" x="1190" y="1139" fill="#ff9010"/>
<use href="#d" x="987" y="1157" fill="#00d0f0"/><use href="#d" x="1055" y="1148" fill="#a02060"/><use href="#d" x="875" y="1169" fill="#2080f0"/>
<use href="#d" x="1137" y="1190" fill="#ff90a0"/><use href="#d" x="934" y="1208" fill="#d0b000"/><use href="#d" x="1004" y="1225" fill="#103020"/>
<use href="#d" x="1074" y="1216" fill="#00c0f0"/>
</g>
<g id="cell-alternating-cross">
<use href="#d" x="1522" y="803" fill="#c02060"/><use href="#d" x="1593" y="800" fill="#0090d0"/><use href="#d" x="1659" y="817" fill="#20c0b0"/>
<use href="#d" x="1455" y="833" fill="#e0a0b0"/><use href="#d" x="1720" y="858" fill="#ff6010"/><use href="#d" x="1404" y="879" fill="#c07060"/>
<use href="#d" x="1517" y="873" fill="#00d0e0"/><use href="#d" x="1587" y="870" fill="#108020"/><use href="#d" x="1654" y="888" fill="#808010"/>
<use href="#d" x="1760" y="913" fill="#c0a0f0"/><use href="#d" x="1464" y="918" fill="#a04010"/><use href="#d" x="1370" y="938" fill="#d0b000"/>
<use href="#d" x="1546" y="938" fill="#f01050"/><use href="#d" x="1614" y="946" fill="#103020"/><use href="#d" x="1696" y="942" fill="#2060e0"/>
<use href="#d" x="1426" y="978" fill="#20b080"/><use href="#d" x="1498" y="986" fill="#0070c0"/><use href="#d" x="1783" y="978" fill="#ffb050"/>
<use href="#d" x="1358" y="1009" fill="#10e020"/><use href="#d" x="1572" y="1012" fill="#501010"/><use href="#d" x="1650" y="1006" fill="#ff9040"/>
<use href="#d" x="1722" y="1009" fill="#ff80f0"/><use href="#d" x="1432" y="1046" fill="#ff40a0"/><use href="#d" x="1505" y="1053" fill="#00d0f0"/>
<use href="#d" x="1782" y="1049" fill="#00b0f0"/><use href="#d" x="1626" y="1068" fill="#ff90a0"/><use href="#d" x="1701" y="1073" fill="#8050c0"/>
<use href="#d" x="1368" y="1079" fill="#80b020"/><use href="#d" x="1562" y="1090" fill="#ff90f0"/><use href="#d" x="1464" y="1111" fill="#80c040"/>
<use href="#d" x="1760" y="1115" fill="#ff9010"/><use href="#d" x="1659" y="1131" fill="#b0c090"/><use href="#d" x="1401" y="1139" fill="#504080"/>
<use href="#d" x="1522" y="1148" fill="#108070"/><use href="#d" x="1594" y="1154" fill="#505010"/><use href="#d" x="1716" y="1169" fill="#ff5080"/>
<use href="#d" x="1453" y="1188" fill="#10c060"/><use href="#d" x="1517" y="1218" fill="#10d050"/><use href="#d" x="1587" y="1223" fill="#70b0c0"/>
<use href="#d" x="1654" y="1207" fill="#006030"/>
</g>
<g id="cell-alternating-matrix">
<use href="#d" x="2063" y="807" fill="#807010"/><use href="#d" x="2134" y="800" fill="#90c040"/><use href="#d" x="2204" y="814" fill="#10e020"/>
<use href="#d" x="2001" y="838" fill="#20c0b0"/><use href="#d" x="2265" y="850" fill="#504080"/><use href="#d" x="2098" y="868" fill="#601010"/>
<use href="#d" x="2167" y="873" fill="#00d0e0"/><use href="#d" x="1950" y="888" fill="#10d050"/><use href="#d" x="2032" y="901" fill="#f01050"/>
<use href="#d" x="2230" y="911" fill="#106040"/><use href="#d" x="2312" y="905" fill="#80c030"/><use href="#d" x="1917" y="953" fill="#ff90a0"/>
<use href="#d" x="1988" y="953" fill="#a02060"/><use href="#d" x="2098" y="938" fill="#a04010"/><use href="#d" x="2165" y="945" fill="#c0a0f0"/>
<use href="#d" x="2268" y="968" fill="#ff6010"/><use href="#d" x="2337" y="970" fill="#ff80f0"/><use href="#d" x="2050" y="988" fill="#103020"/>
<use href="#d" x="2204" y="1000" fill="#0090d0"/><use href="#d" x="1911" y="1022" fill="#e0a0b0"/><use href="#d" x="1980" y="1024" fill="#70b0c0"/>
<use href="#d" x="2126" y="1013" fill="#ffb050"/><use href="#d" x="2268" y="1040" fill="#2060e0"/><use href="#d" x="2340" y="1039" fill="#00b0f0"/>
<use href="#d" x="2059" y="1055" fill="#20c060"/><use href="#d" x="2184" y="1065" fill="#ff90e0"/><use href="#d" x="1922" y="1089" fill="#d0b000"/>
<use href="#d" x="1996" y="1091" fill="#108070"/><use href="#d" x="2119" y="1090" fill="#1080d0"/><use href="#d" x="2244" y="1104" fill="#20b080"/>
<use href="#d" x="2319" y="1107" fill="#ff9010"/><use href="#d" x="2052" y="1135" fill="#8050c0"/><use href="#d" x="1960" y="1151" fill="#00d0e0"/>
<use href="#d" x="2184" y="1143" fill="#b0c090"/><use href="#d" x="2117" y="1162" fill="#ff40a0"/><use href="#d" x="2278" y="1166" fill="#c07060"/>
<use href="#d" x="2014" y="1195" fill="#ff5080"/><use href="#d" x="2220" y="1204" fill="#ff9040"/><use href="#d" x="2078" y="1222" fill="#108020"/>
<use href="#d" x="2153" y="1224" fill="#505010"/>
</g>

<!-- ROW 3 COL 1 -->
<g id="cell-continuous-circular">
<g class="cx" id="conn-continuous-circular">
<g stroke="#b0d8e8" stroke-width="1.5" stroke-opacity=".22">
<path d="M628 1459A200 200 0 0 1 676 1587"/>
<path d="M273 1626A200 200 0 0 0 337 1745"/>
<path d="M582 1758A130 130 0 0 0 633 1715"/>
<path d="M378 1413A200 200 0 0 0 273 1626"/>
<path d="M665 1521A260 260 0 0 1 633 1715"/>
<path d="M440 1388A260 260 0 0 0 322 1447"/>
<path d="M633 1715A220 220 0 0 1 522 1784"/>
</g>
<g stroke="#00c0f0" stroke-width="2.6" stroke-opacity=".62">
<path d="M440 1388A72 72 0 0 1 511 1392" stroke-width="4" stroke-opacity=".9"/>
<path d="M511 1392A66 66 0 0 1 574 1414" stroke-width="4" stroke-opacity=".85"/>
<path d="M574 1414A73 73 0 0 1 628 1459" stroke-width="4" stroke-opacity=".9"/>
<path d="M440 1388A69 69 0 0 0 433 1457" stroke-width="3.5" stroke-opacity=".85"/>
<path d="M433 1457A67 67 0 0 1 500 1453" stroke-width="4" stroke-opacity=".85"/>
<path d="M500 1453A64 64 0 0 0 558 1483" stroke-width="3.5" stroke-opacity=".85"/>
<path d="M558 1483A76 76 0 0 0 628 1459" stroke-width="3.5" stroke-opacity=".85"/>
<path d="M500 1453A128 128 0 0 1 628 1459"/>
<path d="M440 1388A93 93 0 0 1 500 1453"/>
<path d="M511 1392A45 45 0 0 1 532 1427"/>
<path d="M532 1427A109 109 0 0 1 628 1459"/>
<path d="M440 1388A100 100 0 0 1 532 1427"/>
<path d="M511 1392A62 62 0 0 0 500 1453"/>
<path d="M433 1457A100 100 0 0 1 511 1392"/>
<path d="M532 1427A63 63 0 0 0 558 1483"/>
<path d="M574 1414A75 75 0 0 1 558 1483"/>
<path d="M433 1457A195 195 0 0 0 628 1459" stroke-opacity=".4"/>
<path d="M440 1388A136 136 0 0 1 574 1414"/>
<path d="M511 1392A128 128 0 0 1 628 1459"/>
<path d="M433 1457A130 130 0 0 1 574 1414"/>
<path d="M500 1453A90 90 0 0 1 574 1414"/>
</g>
<g stroke="#80d8e8" stroke-width="1.5" stroke-opacity=".3">
<path d="M433 1457A90 90 0 0 0 489 1517"/>
<path d="M500 1453A65 65 0 0 0 489 1517"/>
<path d="M558 1483A76 76 0 0 1 489 1517"/>
<path d="M440 1388A137 137 0 0 0 489 1517"/>
<path d="M628 1459A150 150 0 0 1 665 1521"/>
<path d="M532 1427A100 100 0 0 0 489 1517"/>
</g>
<g stroke="#ff9020" stroke-width="2.2" stroke-opacity=".72">
<path d="M322 1447A131 131 0 0 0 268 1566" stroke-width="2.8"/>
<path d="M268 1566A60 60 0 0 0 273 1626" stroke-width="2.8"/>
<path d="M322 1447A64 64 0 0 1 367 1493"/>
<path d="M367 1493A151 151 0 0 1 273 1626" stroke-width="2.8"/>
<path d="M289 1504A79 79 0 0 1 367 1493"/>
<path d="M289 1504A72 72 0 0 0 339 1552"/>
<path d="M339 1552A72 72 0 0 1 268 1566"/>
<path d="M289 1504A122 122 0 0 0 273 1626"/>
<path d="M322 1447A106 106 0 0 1 339 1552"/>
<path d="M268 1566A120 120 0 0 1 367 1493"/>
<path d="M289 1504A66 66 0 0 0 268 1566"/>
<path d="M339 1552A94 94 0 0 1 273 1626"/>
<path d="M322 1447A67 67 0 0 0 289 1504"/>
</g>
<g stroke="#ff6080">
<path d="M378 1413A120 120 0 0 1 423 1524" stroke-width="2.8" stroke-opacity=".75"/>
<path d="M378 1413A290 290 0 0 1 293 1688" stroke-width="3.2" stroke-opacity=".72"/>
<path d="M423 1524A209 209 0 0 1 293 1688" stroke-width="2.8" stroke-opacity=".72"/>
<path d="M423 1524A125 125 0 0 1 341 1618" stroke-width="2" stroke-opacity=".5"/>
<path d="M378 1413A150 150 0 0 0 322 1447" stroke-width="1.5" stroke-opacity=".2"/>
</g>
<g stroke="#309080" stroke-width="2.2" stroke-opacity=".72">
<path d="M489 1517A107 107 0 0 0 406 1584"/>
<path d="M489 1517A66 66 0 0 0 475 1582"/>
<path d="M489 1517A136 136 0 0 1 481 1653" stroke-width="2.8"/>
<path d="M406 1584A69 69 0 0 1 475 1582"/>
<path d="M406 1584A61 61 0 0 0 418 1644" stroke-width="2.8"/>
<path d="M418 1644A64 64 0 0 1 481 1653" stroke-width="2.8"/>
<path d="M475 1582A71 71 0 0 1 481 1653"/>
<path d="M406 1584A105 105 0 0 1 481 1653"/>
<path d="M475 1582A85 85 0 0 0 418 1644"/>
<path d="M489 1517A148 148 0 0 0 418 1644"/>
</g>
<g stroke="#c080e0" stroke-width="2.2" stroke-opacity=".62">
<path d="M545 1561A126 126 0 0 1 665 1521"/>
<path d="M545 1561A65 65 0 0 1 604 1532"/>
<path d="M545 1561A77 77 0 0 0 612 1598"/>
<path d="M604 1532A66 66 0 0 1 612 1598"/>
<path d="M604 1532A90 90 0 0 1 676 1587"/>
<path d="M665 1521A67 67 0 0 1 676 1587"/>
<path d="M612 1598A64 64 0 0 0 676 1587"/>
<path d="M665 1521A94 94 0 0 0 612 1598"/>
<path d="M676 1587A70 70 0 0 1 664 1655"/>
<path d="M540 1626A70 70 0 0 1 595 1664"/>
<path d="M540 1626A77 77 0 0 0 542 1703"/>
<path d="M595 1664A70 70 0 0 1 664 1655"/>
<path d="M595 1664A70 70 0 0 0 542 1703"/>
<path d="M542 1703A92 92 0 0 0 633 1715"/>
<path d="M595 1664A64 64 0 0 1 633 1715"/>
<path d="M664 1655A67 67 0 0 1 633 1715"/>
<path d="M540 1626A128 128 0 0 1 664 1655"/>
<path d="M665 1521A134 134 0 0 1 664 1655" stroke-width="1.6" stroke-opacity=".4"/>
<path d="M676 1587A134 134 0 0 1 633 1715" stroke-width="1.6" stroke-opacity=".4"/>
<path d="M542 1703A128 128 0 0 1 664 1655"/>
</g>
<g stroke="#40c040" stroke-width="2.2" stroke-opacity=".68">
<path d="M360 1681A68 68 0 0 0 337 1745"/>
<path d="M337 1745A65 65 0 0 0 394 1781" stroke-width="2.8"/>
<path d="M394 1781A67 67 0 0 0 460 1792" stroke-width="2.8"/>
<path d="M460 1792A62 62 0 0 0 522 1784" stroke-width="2.8"/>
<path d="M522 1784A65 65 0 0 0 582 1758" stroke-width="2.8"/>
<path d="M337 1745A246 246 0 0 1 582 1758"/>
<path d="M337 1745A250 250 0 0 0 582 1758" stroke-width="2.8"/>
<path d="M360 1681A69 69 0 0 1 418 1719"/>
<path d="M418 1719A63 63 0 0 1 481 1726"/>
<path d="M418 1719A168 168 0 0 1 582 1758"/>
<path d="M481 1726A110 110 0 0 1 582 1758"/>
<path d="M360 1681A128 128 0 0 1 481 1726"/>
<path d="M418 1719A83 83 0 0 0 460 1792"/>
<path d="M481 1726A68 68 0 0 0 460 1792"/>
<path d="M337 1745A146 146 0 0 1 481 1726"/>
<path d="M394 1781A115 115 0 0 1 481 1726"/>
<path d="M418 1719A124 124 0 0 0 522 1784"/>
<path d="M360 1681A148 148 0 0 0 460 1792"/>
<path d="M481 1726A72 72 0 0 1 522 1784"/>
</g>
</g>
<g id="nodes-continuous-circular">
<g fill="#00b8e8">
<circle cx="440" cy="1388" r="4.5"/><circle cx="511" cy="1392" r="4.5"/><circle cx="574" cy="1414" r="4.5"/>
<circle cx="433" cy="1457" r="4.5"/><circle cx="500" cy="1453" r="4.5"/><circle cx="558" cy="1483" r="4.5"/>
<circle cx="628" cy="1459" r="4.5"/><circle cx="532" cy="1427" r="4"/>
</g>
<g fill="#f08020">
<circle cx="322" cy="1447" r="4.5"/><circle cx="367" cy="1493" r="4.5"/><circle cx="289" cy="1504" r="4.5"/>
<circle cx="339" cy="1552" r="4.5"/><circle cx="268" cy="1566" r="4.5"/><circle cx="273" cy="1626" r="4.5"/>
</g>
<g fill="#ff5070">
<circle cx="378" cy="1413" r="4.5"/><circle cx="423" cy="1524" r="7"/><circle cx="341" cy="1618" r="4.5"/><circle cx="293" cy="1688" r="4.5"/>
</g>
<g fill="#208070">
<circle cx="489" cy="1517" r="5"/><circle cx="406" cy="1584" r="4.5"/><circle cx="475" cy="1582" r="4.5"/>
<circle cx="418" cy="1644" r="4.5"/><circle cx="481" cy="1653" r="4.5"/>
</g>
<g fill="#b070d8">
<circle cx="665" cy="1521" r="4.5"/><circle cx="604" cy="1532" r="4.5"/><circle cx="545" cy="1561" r="4.5"/>
<circle cx="676" cy="1587" r="4.5"/><circle cx="612" cy="1598" r="4.5"/><circle cx="540" cy="1626" r="4.5"/>
<circle cx="595" cy="1664" r="4.5"/><circle cx="664" cy="1655" r="4.5"/><circle cx="542" cy="1703" r="4.5"/>
<circle cx="633" cy="1715" r="4.5"/>
</g>
<g fill="#30b030">
<circle cx="360" cy="1681" r="6"/><circle cx="418" cy="1719" r="4.5"/><circle cx="481" cy="1726" r="4.5"/>
<circle cx="337" cy="1745" r="4.5"/><circle cx="394" cy="1781" r="4.5"/><circle cx="460" cy="1792" r="4.5"/>
<circle cx="522" cy="1784" r="4.5"/><circle cx="582" cy="1758" r="4.5"/>
</g>
</g>
</g>

<!-- ROW 3 COLS 2-4 -->
<g id="cell-continuous-linear">
<g class="cx" id="conn-continuous-linear">
<path d="M806 1573A36 36 0 0 0 875 1569" stroke="#a0a050" stroke-width="3" stroke-opacity=".8"/>
<path d="M859 1446A100 100 0 0 0 896 1504" stroke="#ff80ff" stroke-width="1.5" stroke-opacity=".4"/>
</g>
<use href="#d" x="982" y="1379" fill="#108020"/><use href="#d" x="1055" y="1378" fill="#505010"/><use href="#d" x="915" y="1404" fill="#501010"/>
<use href="#d" x="1121" y="1403" fill="#ff90a0"/><use href="#d" x="859" y="1446" fill="#ff80f0"/><use href="#d" x="1021" y="1441" fill="#a04010"/>
<use href="#d" x="1177" y="1443" fill="#ff80f0"/><use href="#d" x="954" y="1463" fill="#106040"/><use href="#d" x="1086" y="1465" fill="#8050c0"/>
<use href="#d" x="821" y="1507" fill="#20b080"/><use href="#d" x="896" y="1504" fill="#ff80f0"/><use href="#d" x="1022" y="1512" fill="#b0c090"/>
<use href="#d" x="1144" y="1505" fill="#00c0f0"/><use href="#d" x="1218" y="1504" fill="#80c030"/><use href="#d" x="960" y="1540" fill="#70b0c0"/>
<use href="#d" x="1084" y="1544" fill="#ffb050"/><use href="#d" x="806" y="1573" fill="#707010"/><use href="#d" x="875" y="1569" fill="#707010"/>
<use href="#d" x="1163" y="1572" fill="#f01050"/><use href="#d" x="1235" y="1572" fill="#c07060"/><use href="#d" x="1020" y="1590" fill="#c0a0f0"/>
<use href="#d" x="941" y="1605" fill="#103020"/><use href="#d" x="1096" y="1611" fill="#0070c0"/><use href="#d" x="809" y="1643" fill="#ff6010"/>
<use href="#d" x="880" y="1642" fill="#80c030"/><use href="#d" x="1160" y="1642" fill="#00d0f0"/><use href="#d" x="1229" y="1640" fill="#e0a0b0"/>
<use href="#d" x="982" y="1659" fill="#20c0b0"/><use href="#d" x="1050" y="1661" fill="#ff5080"/><use href="#d" x="840" y="1707" fill="#0070c0"/>
<use href="#d" x="921" y="1698" fill="#10c040"/><use href="#d" x="1117" y="1697" fill="#2080f0"/><use href="#d" x="1201" y="1706" fill="#ff40a0"/>
<use href="#d" x="985" y="1732" fill="#ff9040"/><use href="#d" x="1055" y="1733" fill="#ff8010"/><use href="#d" x="890" y="1760" fill="#00d0d0"/>
<use href="#d" x="1153" y="1757" fill="#a02060"/><use href="#d" x="951" y="1792" fill="#10d040"/><use href="#d" x="1021" y="1802" fill="#108070"/>
<use href="#d" x="1093" y="1791" fill="#504080"/>
</g>
<g id="cell-continuous-cross">
<use href="#d" x="1555" y="1375" fill="#c0a0f0"/><use href="#d" x="1491" y="1393" fill="#f01050"/><use href="#d" x="1623" y="1385" fill="#707010"/>
<use href="#d" x="1685" y="1410" fill="#ffb050"/><use href="#d" x="1435" y="1428" fill="#80c030"/><use href="#d" x="1568" y="1443" fill="#80c040"/>
<use href="#d" x="1734" y="1453" fill="#ff5080"/><use href="#d" x="1388" y="1475" fill="#00c0d0"/><use href="#d" x="1498" y="1467" fill="#2060e0"/>
<use href="#d" x="1640" y="1466" fill="#10d020"/><use href="#d" x="1445" y="1520" fill="#b0c090"/><use href="#d" x="1573" y="1511" fill="#ff80f0"/>
<use href="#d" x="1696" y="1515" fill="#d0b000"/><use href="#d" x="1770" y="1509" fill="#a04010"/><use href="#d" x="1365" y="1537" fill="#505010"/>
<use href="#d" x="1511" y="1537" fill="#108020"/><use href="#d" x="1634" y="1543" fill="#ff90a0"/><use href="#d" x="1424" y="1589" fill="#20b080"/>
<use href="#d" x="1570" y="1588" fill="#20c0b0"/><use href="#d" x="1714" y="1585" fill="#108070"/><use href="#d" x="1785" y="1573" fill="#00d0f0"/>
<use href="#d" x="1357" y="1605" fill="#8050c0"/><use href="#d" x="1495" y="1603" fill="#a02060"/><use href="#d" x="1647" y="1608" fill="#ff80f0"/>
<use href="#d" x="1775" y="1638" fill="#ff9040"/><use href="#d" x="1373" y="1668" fill="#0070c0"/><use href="#d" x="1449" y="1661" fill="#ff6010"/>
<use href="#d" x="1534" y="1657" fill="#106040"/><use href="#d" x="1603" y="1660" fill="#e0a0b0"/><use href="#d" x="1696" y="1660" fill="#ff40a0"/>
<use href="#d" x="1755" y="1700" fill="#504080"/><use href="#d" x="1409" y="1723" fill="#20c080"/><use href="#d" x="1498" y="1715" fill="#70b0c0"/>
<use href="#d" x="1645" y="1711" fill="#00b0f0"/><use href="#d" x="1572" y="1728" fill="#103020"/><use href="#d" x="1709" y="1749" fill="#601010"/>
<use href="#d" x="1455" y="1770" fill="#c07060"/><use href="#d" x="1521" y="1791" fill="#10c060"/><use href="#d" x="1587" y="1798" fill="#ff9010"/>
<use href="#d" x="1652" y="1784" fill="#0090d0"/>
</g>
<g id="cell-continuous-matrix">
<use href="#d" x="2126" y="1377" fill="#ff80f0"/><use href="#d" x="2052" y="1392" fill="#0090d0"/><use href="#d" x="2198" y="1393" fill="#70b0c0"/>
<use href="#d" x="1989" y="1426" fill="#ff90e0"/><use href="#d" x="2261" y="1427" fill="#103020"/><use href="#d" x="2119" y="1442" fill="#2060e0"/>
<use href="#d" x="2058" y="1464" fill="#20b080"/><use href="#d" x="2183" y="1463" fill="#20c080"/><use href="#d" x="1936" y="1485" fill="#ff9040"/>
<use href="#d" x="2001" y="1500" fill="#ff90a0"/><use href="#d" x="2244" y="1492" fill="#707010"/><use href="#d" x="2312" y="1490" fill="#20c0b0"/>
<use href="#d" x="2121" y="1515" fill="#e0a0b0"/><use href="#d" x="1914" y="1553" fill="#10e020"/><use href="#d" x="1982" y="1563" fill="#a02060"/>
<use href="#d" x="2060" y="1544" fill="#ff6010"/><use href="#d" x="2183" y="1540" fill="#f01050"/><use href="#d" x="2261" y="1557" fill="#108070"/>
<use href="#d" x="2334" y="1558" fill="#00b0f0"/><use href="#d" x="2124" y="1592" fill="#ff8010"/><use href="#d" x="2048" y="1612" fill="#c0a0f0"/>
<use href="#d" x="2199" y="1607" fill="#ff5080"/><use href="#d" x="2271" y="1622" fill="#b0c090"/><use href="#d" x="1911" y="1625" fill="#505010"/>
<use href="#d" x="1975" y="1630" fill="#106040"/><use href="#d" x="2336" y="1632" fill="#ff40a0"/><use href="#d" x="2091" y="1662" fill="#80c040"/>
<use href="#d" x="2160" y="1662" fill="#10c040"/><use href="#d" x="2237" y="1677" fill="#d0b000"/><use href="#d" x="2014" y="1683" fill="#00d0f0"/>
<use href="#d" x="1937" y="1696" fill="#504080"/><use href="#d" x="2306" y="1699" fill="#0070c0"/><use href="#d" x="2061" y="1729" fill="#c07060"/>
<use href="#d" x="2127" y="1733" fill="#00c0d0"/><use href="#d" x="2194" y="1728" fill="#80c030"/><use href="#d" x="1983" y="1752" fill="#501010"/>
<use href="#d" x="2261" y="1757" fill="#8050c0"/><use href="#d" x="2047" y="1793" fill="#ffb050"/><use href="#d" x="2119" y="1803" fill="#a04010"/>
<use href="#d" x="2191" y="1796" fill="#108020"/>
</g>

<text id="watermark" x="2828" y="1792" text-anchor="middle" font-family="'Open Sans','Liberation Sans',sans-serif" font-size="44" font-weight="600" fill="#cdcfdd">miro</text>
</svg>
